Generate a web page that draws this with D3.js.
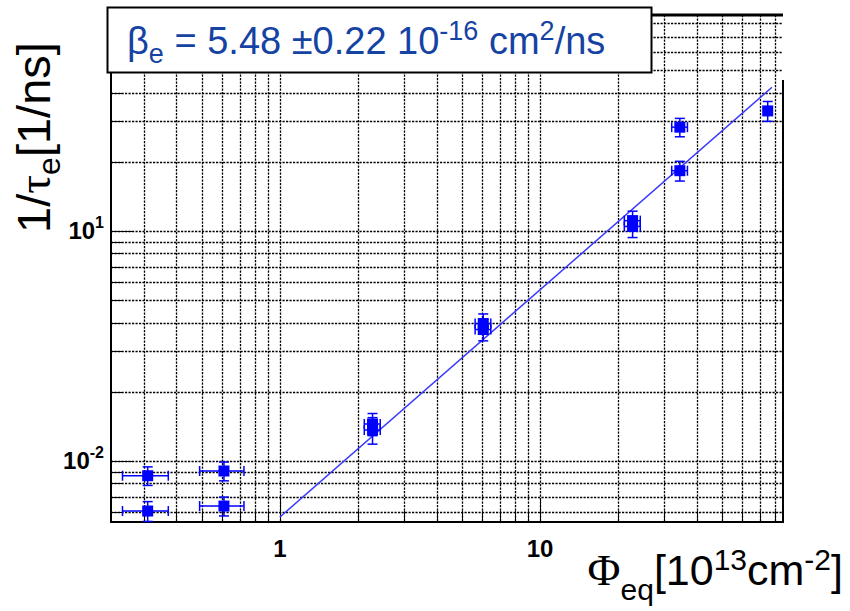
<!DOCTYPE html>
<html>
<head>
<meta charset="utf-8">
<script src="https://cdn.jsdelivr.net/npm/d3@7"></script>
<style>
  html, body { margin: 0; padding: 0; background: #fff; }
  svg { display: block; }
</style>
</head>
<body>
<svg id="chart" width="850" height="611"></svg>
<script>
// measured points: fluence [1e13 cm^-2] and trapping rate 1/tau_e [1/ns]
const phi      = [0.31, 0.31, 0.609, 0.609, 2.27, 2.27, 6.05, 6.05, 22.7, 22.7, 34.5, 34.5, 75.1]
const phiErr   = [0.062, 0.062, 0.118, 0.118, 0.16, 0.16, 0.42, 0.42, 1.6, 1.6, 2.4, 2.4, 2.2]
const rate     = [0.00863, 0.00606, 0.00905, 0.00637, 0.01449, 0.01364, 0.0396, 0.0373, 0.111, 0.1047, 0.283, 0.183, 0.333]
const rateErr  = [0.0008, 0.0006, 0.00085, 0.0006, 0.0016, 0.0018, 0.004, 0.004, 0.011, 0.011, 0.026, 0.018, 0.033]

// fit line end points
const fitPhi  = [1, 78]
const fitRate = [0.00571, 0.422]

// labelled ticks
const xTickVals   = [1, 10]
const xTickLabels = ['1', '10']
const yTickVals   = [0.01, 0.1]
const yTickExp    = ['-2', '1']

const pLeft = 111, pRight = 783, pTop = 15, pBottom = 522

const svg = d3.select('#chart')

const x = d3.scaleLog().domain([0.224, 86]).range([pLeft, pRight])
const y = d3.scaleLog().domain([0.00543, 0.87]).range([pBottom, pTop])

const px = v => Math.round(v) + 0.5
const isMajor = v => Math.abs(Math.log10(v) - Math.round(Math.log10(v))) < 1e-6

// grid
const grid = svg.append('g')
  .attr('stroke', '#000')
  .attr('stroke-width', 1.3)
  .attr('stroke-dasharray', '2.2,1.3')

grid.selectAll('.gx').data(x.ticks())
  .enter().append('line')
  .attr('x1', d => px(x(d))).attr('x2', d => px(x(d)))
  .attr('y1', pTop).attr('y2', pBottom)

grid.selectAll('.gy').data(y.ticks())
  .enter().append('line')
  .attr('x1', pLeft).attr('x2', pRight)
  .attr('y1', d => px(y(d))).attr('y2', d => px(y(d)))

// ticks
const ticks = svg.append('g')
  .attr('stroke', '#000')
  .attr('stroke-width', 1.5)
  .attr('shape-rendering', 'crispEdges')

ticks.selectAll('.tx').data(x.ticks())
  .enter().append('line')
  .attr('x1', d => px(x(d))).attr('x2', d => px(x(d)))
  .attr('y1', pBottom).attr('y2', d => pBottom - (isMajor(d) ? 23 : 11))

ticks.selectAll('.ty').data(y.ticks())
  .enter().append('line')
  .attr('y1', d => px(y(d))).attr('y2', d => px(y(d)))
  .attr('x1', pLeft).attr('x2', d => pLeft + (isMajor(d) ? 23 : 11))

// frame
const frame = svg.append('g').attr('stroke', '#000').attr('stroke-width', 2).attr('fill', 'none')
frame.append('line').attr('x1', pLeft).attr('x2', pLeft).attr('y1', pTop).attr('y2', pBottom + 1)
frame.append('line').attr('x1', pLeft).attr('x2', pRight + 1).attr('y1', pBottom).attr('y2', pBottom)
frame.append('line').attr('x1', pLeft).attr('x2', pRight).attr('y1', pTop).attr('y2', pTop).attr('stroke-width', 3)
frame.append('line').attr('x1', pRight).attr('x2', pRight).attr('y1', 80).attr('y2', pBottom + 1)

// tick labels
svg.append('g').selectAll('text').data(xTickVals)
  .enter().append('text')
  .attr('x', d => x(d))
  .attr('y', 557)
  .attr('text-anchor', 'middle')
  .style('font', 'bold 24px "Liberation Sans", Arial, sans-serif')
  .text((d, i) => xTickLabels[i])

const yl = svg.append('g').selectAll('text').data(yTickVals)
  .enter().append('text')
  .attr('x', 104)
  .attr('y', d => y(d) + 8)
  .attr('text-anchor', 'end')
  .style('font', 'bold 24px "Liberation Sans", Arial, sans-serif')
yl.append('tspan').text('10')
yl.append('tspan').attr('dy', -11).style('font-size', '16px').text((d, i) => yTickExp[i])

// fit line
svg.append('path')
  .datum(fitPhi.map((p, i) => [p, fitRate[i]]))
  .attr('d', d3.line().x(d => x(d[0])).y(d => y(d[1])))
  .attr('fill', 'none')
  .attr('stroke', '#3a3aff')
  .attr('stroke-width', 1.5)

// points with error bars
const pts = phi.map((p, i) => ({p: p, pe: phiErr[i], r: rate[i], re: rateErr[i]}))
const clipY = v => Math.min(pBottom, Math.max(pTop, v))
const eb = svg.append('g').attr('stroke', '#0000ff').attr('stroke-width', 1.5).attr('fill', 'none')
pts.forEach(d => {
  const cx = x(d.p), cy = y(d.r)
  const x0 = x(d.p - d.pe), x1 = x(d.p + d.pe)
  const y0 = clipY(y(d.r - d.re)), y1 = clipY(y(d.r + d.re))
  eb.append('line').attr('x1', x0).attr('x2', x1).attr('y1', cy).attr('y2', cy)
  eb.append('line').attr('x1', cx).attr('x2', cx).attr('y1', y0).attr('y2', y1)
  eb.append('line').attr('x1', x0).attr('x2', x0).attr('y1', cy - 5).attr('y2', cy + 5)
  eb.append('line').attr('x1', x1).attr('x2', x1).attr('y1', cy - 5).attr('y2', cy + 5)
  if (y0 < pBottom) eb.append('line').attr('x1', cx - 5).attr('x2', cx + 5).attr('y1', y0).attr('y2', y0)
  eb.append('line').attr('x1', cx - 5).attr('x2', cx + 5).attr('y1', y1).attr('y2', y1)
})
svg.append('g').selectAll('rect').data(pts)
  .enter().append('rect')
  .attr('x', d => x(d.p) - 5.5)
  .attr('y', d => y(d.r) - 5.5)
  .attr('width', 11).attr('height', 11)
  .attr('fill', '#0000ff')

// result box
svg.append('rect')
  .attr('x', 107.5).attr('y', 7.5).attr('width', 544).attr('height', 65)
  .attr('fill', '#fff').attr('stroke', '#000').attr('stroke-width', 2)

const t = svg.append('text')
  .attr('x', 127).attr('y', 54)
  .attr('fill', '#1543a3')
  .style('font', '38px "Liberation Sans", Arial, sans-serif')
t.append('tspan').text('β')
t.append('tspan').attr('dy', 9).style('font-size', '27px').text('e')
t.append('tspan').attr('dy', -9).text(' = 5.48 ±0.22 10')
t.append('tspan').attr('dy', -14).style('font-size', '27px').text('-16')
t.append('tspan').attr('dy', 14).text(' cm')
t.append('tspan').attr('dy', -14).style('font-size', '27px').text('2')
t.append('tspan').attr('dy', 14).text('/ns')

// axis titles
const xt = svg.append('text')
  .attr('x', 843).attr('y', 585)
  .attr('text-anchor', 'end')
  .style('font', '43px "Liberation Sans", Arial, sans-serif')
xt.append('tspan').style('font-family', '"Liberation Serif", serif').style('font-size', '45px').text('Φ')
xt.append('tspan').attr('dy', 15).style('font-size', '30px').text('eq')
xt.append('tspan').attr('dy', -15).text('[10')
xt.append('tspan').attr('dy', -15).style('font-size', '30px').text('13')
xt.append('tspan').attr('dy', 15).text('cm')
xt.append('tspan').attr('dy', -15).style('font-size', '30px').text('-2')
xt.append('tspan').attr('dy', 15).text(']')

const yt = svg.append('text')
  .attr('transform', 'translate(50,233) rotate(-90)')
  .style('font', '47px "Liberation Sans", Arial, sans-serif')
yt.append('tspan').text('1/')
yt.append('tspan').style('font-family', '"Liberation Serif", serif').text('τ')
yt.append('tspan').attr('dy', 10).style('font-size', '32px').text('e')
yt.append('tspan').attr('dy', -10).text('[1/ns]')
</script>
</body>
</html>
